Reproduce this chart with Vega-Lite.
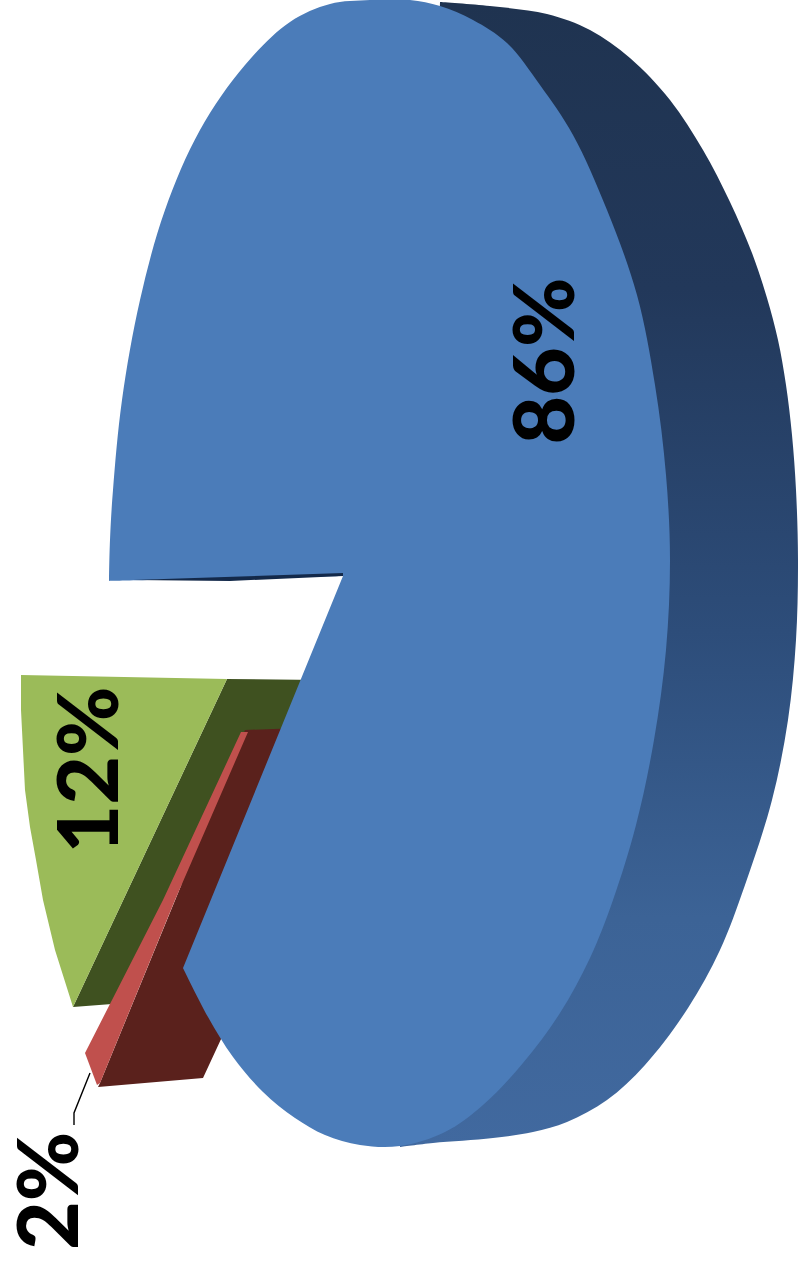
{"$schema":"https://vega.github.io/schema/vega-lite/v6.json","width":798,"height":1263,"padding":0,"autosize":{"type":"none"},"background":"white","config":{"view":{"stroke":null}},
"datasets":{"outlines":[
{"shape":"side","o":1,"x":440,"y":2},{"shape":"side","o":2,"x":490,"y":6},{"shape":"side","o":3,"x":547,"y":14},{"shape":"side","o":4,"x":590,"y":30},{"shape":"side","o":5,"x":630,"y":58},{"shape":"side","o":6,"x":670,"y":100},{"shape":"side","o":7,"x":703,"y":150},{"shape":"side","o":8,"x":730,"y":202},{"shape":"side","o":9,"x":752,"y":253},{"shape":"side","o":10,"x":767,"y":298},{"shape":"side","o":11,"x":778,"y":340},{"shape":"side","o":12,"x":786,"y":385},{"shape":"side","o":13,"x":792,"y":435},{"shape":"side","o":14,"x":796,"y":490},{"shape":"side","o":15,"x":798,"y":560},{"shape":"side","o":16,"x":796,"y":640},{"shape":"side","o":17,"x":788,"y":720},{"shape":"side","o":18,"x":772,"y":800},{"shape":"side","o":19,"x":745,"y":885},{"shape":"side","o":20,"x":720,"y":950},{"shape":"side","o":21,"x":688,"y":1008},{"shape":"side","o":22,"x":645,"y":1065},{"shape":"side","o":23,"x":607,"y":1100},{"shape":"side","o":24,"x":567,"y":1122},{"shape":"side","o":25,"x":533,"y":1132},{"shape":"side","o":26,"x":493,"y":1138},{"shape":"side","o":27,"x":433,"y":1143},{"shape":"side","o":28,"x":400,"y":1147},
{"shape":"greenSide","o":1,"x":227,"y":679},{"shape":"greenSide","o":2,"x":320,"y":680},{"shape":"greenSide","o":3,"x":290,"y":740},{"shape":"greenSide","o":4,"x":170,"y":900},{"shape":"greenSide","o":5,"x":112,"y":1004},{"shape":"greenSide","o":6,"x":73,"y":1007},
{"shape":"greenTop","o":1,"x":21,"y":675},{"shape":"greenTop","o":2,"x":227,"y":679},{"shape":"greenTop","o":3,"x":73,"y":1007},{"shape":"greenTop","o":4,"x":55,"y":950},{"shape":"greenTop","o":5,"x":43,"y":900},{"shape":"greenTop","o":6,"x":36,"y":860},{"shape":"greenTop","o":7,"x":30,"y":827},{"shape":"greenTop","o":8,"x":25,"y":790},{"shape":"greenTop","o":9,"x":23,"y":750},{"shape":"greenTop","o":10,"x":21,"y":710},
{"shape":"redSide","o":1,"x":245,"y":730},{"shape":"redSide","o":2,"x":300,"y":728},{"shape":"redSide","o":3,"x":240,"y":980},{"shape":"redSide","o":4,"x":222,"y":1037},{"shape":"redSide","o":5,"x":203,"y":1078},{"shape":"redSide","o":6,"x":98,"y":1087},{"shape":"redSide","o":7,"x":100,"y":1083},
{"shape":"redTop","o":1,"x":241,"y":732},{"shape":"redTop","o":2,"x":248,"y":732},{"shape":"redTop","o":3,"x":175,"y":900},{"shape":"redTop","o":4,"x":100,"y":1083},{"shape":"redTop","o":5,"x":97,"y":1085},{"shape":"redTop","o":6,"x":85,"y":1053},{"shape":"redTop","o":7,"x":163,"y":900},
{"shape":"blueTop","o":1,"x":343,"y":576},{"shape":"blueTop","o":2,"x":343,"y":576},{"shape":"blueTop","o":3,"x":109,"y":581},{"shape":"blueTop","o":4,"x":109,"y":581},{"shape":"blueTop","o":5,"x":110,"y":540},{"shape":"blueTop","o":6,"x":113,"y":490},{"shape":"blueTop","o":7,"x":122,"y":400},{"shape":"blueTop","o":8,"x":140,"y":300},{"shape":"blueTop","o":9,"x":165,"y":210},{"shape":"blueTop","o":10,"x":200,"y":130},{"shape":"blueTop","o":11,"x":245,"y":65},{"shape":"blueTop","o":12,"x":290,"y":22},{"shape":"blueTop","o":13,"x":330,"y":4},{"shape":"blueTop","o":14,"x":370,"y":0},{"shape":"blueTop","o":15,"x":410,"y":0},{"shape":"blueTop","o":16,"x":440,"y":6},{"shape":"blueTop","o":17,"x":473,"y":20},{"shape":"blueTop","o":18,"x":507,"y":43},{"shape":"blueTop","o":19,"x":540,"y":85},{"shape":"blueTop","o":20,"x":573,"y":135},{"shape":"blueTop","o":21,"x":607,"y":210},{"shape":"blueTop","o":22,"x":637,"y":295},{"shape":"blueTop","o":23,"x":655,"y":385},{"shape":"blueTop","o":24,"x":666,"y":475},{"shape":"blueTop","o":25,"x":670,"y":560},{"shape":"blueTop","o":26,"x":666,"y":650},{"shape":"blueTop","o":27,"x":654,"y":740},{"shape":"blueTop","o":28,"x":636,"y":825},{"shape":"blueTop","o":29,"x":613,"y":900},{"shape":"blueTop","o":30,"x":590,"y":958},{"shape":"blueTop","o":31,"x":560,"y":1013},{"shape":"blueTop","o":32,"x":523,"y":1063},{"shape":"blueTop","o":33,"x":483,"y":1105},{"shape":"blueTop","o":34,"x":445,"y":1132},{"shape":"blueTop","o":35,"x":400,"y":1146},{"shape":"blueTop","o":36,"x":360,"y":1145},{"shape":"blueTop","o":37,"x":325,"y":1135},{"shape":"blueTop","o":38,"x":295,"y":1118},{"shape":"blueTop","o":39,"x":263,"y":1092},{"shape":"blueTop","o":40,"x":233,"y":1057},{"shape":"blueTop","o":41,"x":208,"y":1017},{"shape":"blueTop","o":42,"x":183,"y":968},{"shape":"blueTop","o":43,"x":183,"y":968},
{"shape":"notch","o":1,"x":133,"y":580},{"shape":"notch","o":2,"x":343,"y":573},{"shape":"notch","o":3,"x":343,"y":576},{"shape":"notch","o":4,"x":230,"y":581}],
"leader":[{"o":1,"x":90,"y":1073},{"o":2,"x":74,"y":1113},{"o":3,"x":74,"y":1125}],
"labels":[{"slice":"large","label":"86%","x":574,"y":361},{"slice":"medium","label":"12%","x":118,"y":770},{"slice":"small","label":"2%","x":78,"y":1191}]},
"encoding":{"x":{"field":"x","type":"quantitative","axis":null,"scale":{"domain":[0,798],"nice":false,"zero":false}},"y":{"field":"y","type":"quantitative","axis":null,"scale":{"domain":[1263,0],"nice":false,"zero":false}}},
"layer":[
{"data":{"name":"outlines"},"transform":[{"filter":"datum.shape==='side'"}],"mark":{"type":"line","interpolate":"catmull-rom","strokeWidth":0,"fill":{"x1":0,"y1":0,"x2":0,"y2":1,"gradient":"linear","stops":[{"offset":0,"color":"#1f3350"},{"offset":0.25,"color":"#22385a"},{"offset":0.55,"color":"#2d4d7a"},{"offset":0.8,"color":"#3c6396"},{"offset":1,"color":"#41699f"}]}},"encoding":{"order":{"field":"o","type":"quantitative"}}},
{"data":{"name":"outlines"},"transform":[{"filter":"datum.shape==='greenSide'"}],"mark":{"type":"line","strokeWidth":0,"fill":"#3f5120"},"encoding":{"order":{"field":"o","type":"quantitative"}}},
{"data":{"name":"outlines"},"transform":[{"filter":"datum.shape==='greenTop'"}],"mark":{"type":"line","strokeWidth":0,"fill":"#9bbb59"},"encoding":{"order":{"field":"o","type":"quantitative"}}},
{"data":{"name":"outlines"},"transform":[{"filter":"datum.shape==='redSide'"}],"mark":{"type":"line","strokeWidth":0,"fill":"#5a211c"},"encoding":{"order":{"field":"o","type":"quantitative"}}},
{"data":{"name":"outlines"},"transform":[{"filter":"datum.shape==='redTop'"}],"mark":{"type":"line","strokeWidth":0,"fill":"#c0504d"},"encoding":{"order":{"field":"o","type":"quantitative"}}},
{"data":{"name":"outlines"},"transform":[{"filter":"datum.shape==='blueTop'"}],"mark":{"type":"line","interpolate":"catmull-rom","strokeWidth":0,"fill":"#4b7cb9"},"encoding":{"order":{"field":"o","type":"quantitative"}}},
{"data":{"name":"outlines"},"transform":[{"filter":"datum.shape==='notch'"}],"mark":{"type":"line","strokeWidth":0,"fill":"#13294a"},"encoding":{"order":{"field":"o","type":"quantitative"}}},
{"data":{"name":"leader"},"mark":{"type":"line","stroke":"black","strokeWidth":1.4},"encoding":{"order":{"field":"o","type":"quantitative"}}},
{"data":{"name":"labels"},"mark":{"type":"text","angle":270,"align":"center","baseline":"alphabetic","font":"Lato","fontWeight":900,"fontSize":84,"color":"black"},"encoding":{"text":{"field":"label","type":"nominal"}}}
]}
